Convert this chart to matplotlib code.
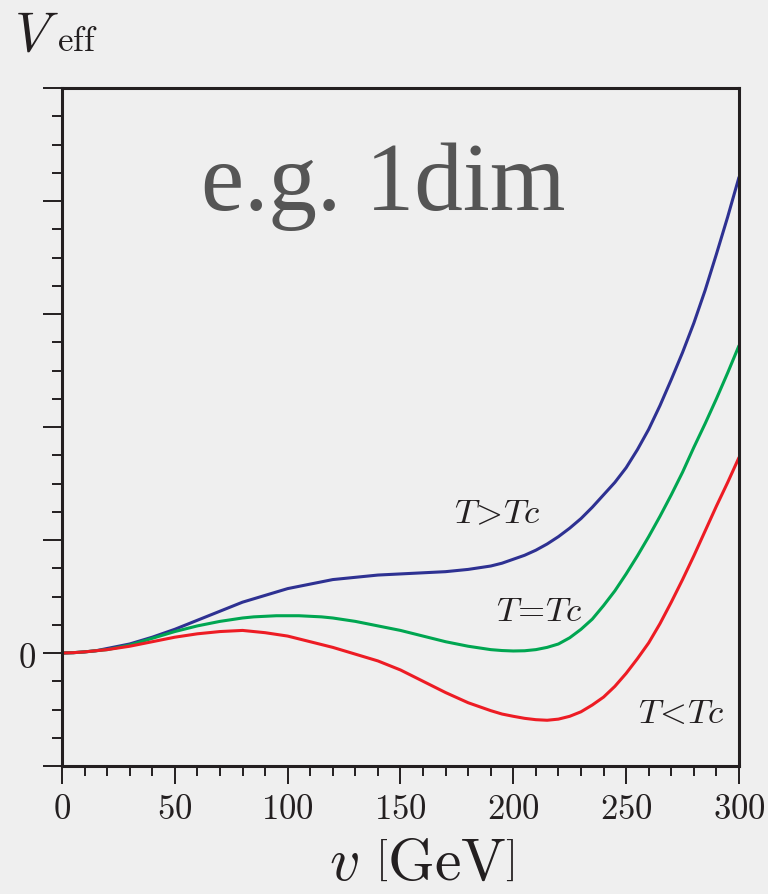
import numpy as np
import matplotlib
matplotlib.use('Agg')
import matplotlib.pyplot as plt
from matplotlib.ticker import MultipleLocator, FuncFormatter

plt.rcParams['mathtext.fontset'] = 'cm'
plt.rcParams['font.family'] = ['DejaVu Serif']

# field value v [GeV]
v = list(range(0, 301, 5))

# effective potential, arbitrary units (one major tick = 1)
V_above = [0, 0.003, 0.01, 0.02, 0.04, 0.06, 0.08, 0.11, 0.14, 0.175, 0.21,
           0.25, 0.29, 0.33, 0.37, 0.41, 0.45, 0.48, 0.51, 0.54, 0.57,
           0.59, 0.61, 0.63, 0.65, 0.66, 0.67, 0.68, 0.69, 0.695, 0.70,
           0.705, 0.71, 0.715, 0.72, 0.73, 0.74, 0.755, 0.77, 0.795, 0.83,
           0.865, 0.91, 0.965, 1.03, 1.105, 1.19, 1.29, 1.40, 1.51, 1.64,
           1.80, 1.98, 2.19, 2.42, 2.66, 2.92, 3.21, 3.53, 3.86, 4.21]
V_crit = [0, 0.003, 0.01, 0.02, 0.03, 0.05, 0.07, 0.10, 0.13, 0.16, 0.19,
          0.215, 0.24, 0.26, 0.28, 0.295, 0.31, 0.32, 0.325, 0.33, 0.33,
          0.33, 0.325, 0.32, 0.31, 0.295, 0.28, 0.26, 0.24, 0.22, 0.20,
          0.175, 0.15, 0.125, 0.10, 0.08, 0.06, 0.045, 0.03, 0.022, 0.018,
          0.02, 0.03, 0.05, 0.08, 0.135, 0.21, 0.30, 0.42, 0.55, 0.70,
          0.86, 1.03, 1.21, 1.40, 1.60, 1.82, 2.03, 2.25, 2.48, 2.72]
V_below = [0, 0.003, 0.01, 0.02, 0.03, 0.045, 0.06, 0.08, 0.10, 0.12, 0.14,
           0.155, 0.17, 0.18, 0.19, 0.195, 0.20, 0.19, 0.18, 0.165, 0.15,
           0.125, 0.10, 0.075, 0.05, 0.02, -0.01, -0.04, -0.07, -0.11, -0.15,
           -0.20, -0.25, -0.30, -0.35, -0.395, -0.44, -0.475, -0.51, -0.54, -0.56,
           -0.578, -0.59, -0.595, -0.585, -0.56, -0.52, -0.46, -0.39, -0.295, -0.18,
           -0.05, 0.09, 0.26, 0.45, 0.65, 0.86, 1.08, 1.30, 1.51, 1.73]

bg = '#efefef'
fig = plt.figure(figsize=(7.68, 8.95), dpi=100, facecolor=bg)
ax = fig.add_axes([0.0807, 0.1430, 0.8815, 0.7575], facecolor=bg)

ax.plot(v, V_above, color='#2e3192', lw=2.2, solid_capstyle='round')
ax.plot(v, V_crit, color='#00a651', lw=2.2, solid_capstyle='round')
ax.plot(v, V_below, color='#ed1c24', lw=2.2, solid_capstyle='round')

ax.set_xlim(0, 300)
ax.set_ylim(-1, 5)

for s in ax.spines.values():
    s.set_linewidth(2.2)
    s.set_color('#231f20')

ax.xaxis.set_major_locator(MultipleLocator(50))
ax.xaxis.set_minor_locator(MultipleLocator(10))
ax.yaxis.set_major_locator(MultipleLocator(1))
ax.yaxis.set_minor_locator(MultipleLocator(0.25))
ax.xaxis.set_major_formatter(FuncFormatter(lambda x, p: r'$%d$' % x))
ax.yaxis.set_major_formatter(FuncFormatter(lambda y, p: r'$0$' if abs(y) < 1e-9 else ''))

ax.tick_params(which='both', direction='out', color='#231f20', width=1.4,
               top=False, right=False, labelcolor='#231f20')
ax.tick_params(axis='x', which='major', length=13, labelsize=25, pad=5)
ax.tick_params(axis='x', which='minor', length=7)
ax.tick_params(axis='y', which='major', length=14, labelsize=25, pad=5)
ax.tick_params(axis='y', which='minor', length=7)

ax.set_xlabel(r'$v\ \left[\mathrm{GeV}\right]$', fontsize=43, color='#231f20')
ax.xaxis.set_label_coords(0.532, -0.098)

fig.text(0.018, 0.943, r'$V$', fontsize=40, color='#231f20', ha='left', va='baseline')
fig.text(0.074, 0.943, r'$\mathrm{eff}$', fontsize=25, color='#231f20',
         ha='left', va='baseline')

ax.text(0.475, 0.8215, 'e.g. 1dim', transform=ax.transAxes, fontsize=70,
        family='Liberation Serif', color='#555555', ha='center', va='baseline')

ax.text(0.643, 0.360, r'$T\!>\!Tc$', transform=ax.transAxes, fontsize=25,
        color='#231f20', ha='center', va='baseline')
ax.text(0.705, 0.215, r'$T\!=\!Tc$', transform=ax.transAxes, fontsize=25,
        color='#231f20', ha='center', va='baseline')
ax.text(0.915, 0.065, r'$T\!<\!Tc$', transform=ax.transAxes, fontsize=25,
        color='#231f20', ha='center', va='baseline')

fig.savefig('out.png', dpi=100, facecolor=bg)
